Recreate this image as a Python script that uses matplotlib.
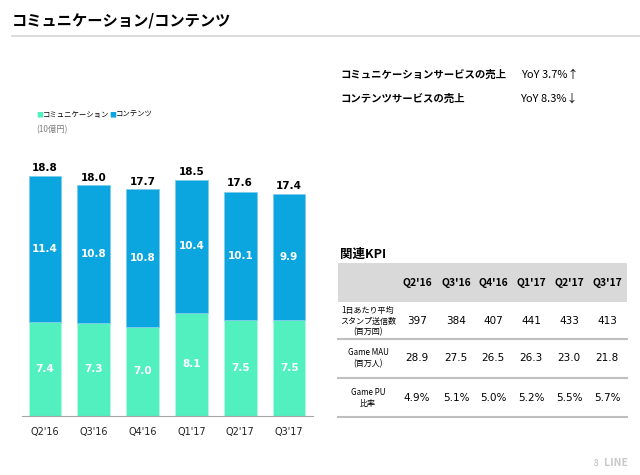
"""Communication / content revenue slide (LINE Q3'17)."""

import matplotlib
matplotlib.use("Agg")
import matplotlib.pyplot as plt
import numpy as np

plt.rcParams["font.family"] = ["Noto Sans CJK JP", "DejaVu Sans"]

QUARTERS = ["Q2'16", "Q3'16", "Q4'16", "Q1'17", "Q2'17", "Q3'17"]
COMM = [7.4, 7.3, 7.0, 8.1, 7.5, 7.5]
CONTENT = [11.4, 10.8, 10.8, 10.4, 10.1, 9.9]
TOTAL = [18.8, 18.0, 17.7, 18.5, 17.6, 17.4]

KPI_ROWS = ["1日あたり平均\nスタンプ送信数\n(百万回)", "Game MAU\n(百万人)", "Game PU\n比率"]
KPI_VALUES = [
    ["397", "384", "407", "441", "433", "413"],
    ["28.9", "27.5", "26.5", "26.3", "23.0", "21.8"],
    ["4.9%", "5.1%", "5.0%", "5.2%", "5.5%", "5.7%"],
]

GREEN = "#52F0BF"
BLUE = "#0BA6E0"
W, H = 640, 475

fig = plt.figure(figsize=(6.4, 4.75), dpi=100)

# overlay in pixel coords for slide decorations
ov = fig.add_axes([0, 0, 1, 1])
ov.set_xlim(0, W)
ov.set_ylim(H, 0)
ov.axis("off")

ov.text(12, 21, "コミュニケーション/コンテンツ", fontsize=11, fontweight="bold",
        va="center", ha="left")
ov.plot([12, W], [36, 36], color="#D4D4D4", lw=1.2)

# legend + unit
ov.text(36, 115, "■", color=GREEN, fontsize=5, va="center")
ov.text(43, 115, "コミュニケーション", fontsize=5.3, va="center")
ov.text(109, 115, "■", color=BLUE, fontsize=5, va="center")
ov.text(116, 115, "コンテンツ", fontsize=5.3, va="center")
ov.text(36, 130, "(10億円)", fontsize=6, color="#808080", va="center")

# YoY texts
ov.text(340, 75, "コミュニケーションサービスの売上", fontsize=7.5, fontweight="bold", va="center")
ov.text(521, 75, "YoY 3.7%↑", fontsize=8, va="center")
ov.text(340, 99, "コンテンツサービスの売上", fontsize=7.5, fontweight="bold", va="center")
ov.text(520, 99, "YoY 8.3%↓", fontsize=8, va="center")

# KPI table
ov.text(340, 254, "関連KPI", fontsize=9, fontweight="bold", va="center")
ov.add_patch(plt.Rectangle((338, 263), 289, 39, color="#D9D9D9", lw=0))
col_x = [417, 456, 493, 531, 569, 607]
for q, cx in zip(QUARTERS, col_x):
    ov.text(cx, 283, q, fontsize=7.5, fontweight="bold", ha="center", va="center")
row_y = [321, 358, 398]
for lab, vals, ry in zip(KPI_ROWS, KPI_VALUES, row_y):
    ov.text(368, ry, lab, fontsize=5.8, ha="center", va="center", linespacing=1.2)
    for v, cx in zip(vals, col_x):
        ov.text(cx, ry, v, fontsize=7.5, ha="center", va="center", family="DejaVu Sans")
for ly in [339, 378, 417]:
    ov.plot([338, 627], [ly, ly], color="#BFBFBF", lw=1.5)

# footer
ov.text(594, 463, "8", fontsize=6, color="#BBBBBB", va="center")
ov.text(604, 463, "LINE", fontsize=7.5, color="#C8C8C8", fontweight="bold", va="center")

# bar chart
ax = fig.add_axes([22 / W, (H - 416) / H, 291 / W, 255 / H])
x = np.arange(len(QUARTERS))
ax.bar(x, COMM, width=0.67, color=GREEN, edgecolor="#B5F7E3", lw=0.6)
ax.bar(x, CONTENT, width=0.67, bottom=COMM, color=BLUE, edgecolor="#7FCBEB", lw=0.6)
for i in range(len(x)):
    ax.text(x[i], COMM[i] / 2, f"{COMM[i]:.1f}", color="white", fontweight="bold",
            fontsize=7.5, ha="center", va="center", family="DejaVu Sans")
    ax.text(x[i], COMM[i] + CONTENT[i] / 2, f"{CONTENT[i]:.1f}", color="white",
            fontweight="bold", fontsize=7.5, ha="center", va="center", family="DejaVu Sans")
    ax.text(x[i], TOTAL[i] + 0.25, f"{TOTAL[i]:.1f}", fontweight="bold", fontsize=7.5,
            ha="center", va="bottom", family="DejaVu Sans")
ax.set_xlim(-0.47, 5.49)
ax.set_ylim(0, 20)
ax.set_xticks(x)
ax.set_xticklabels(QUARTERS, fontsize=7, family="DejaVu Sans", color="#222222")
ax.tick_params(axis="x", length=0, pad=8)
ax.set_yticks([])
for s in ["top", "left", "right"]:
    ax.spines[s].set_visible(False)
ax.spines["bottom"].set_color("#A6A6A6")

fig.savefig("out.png")
